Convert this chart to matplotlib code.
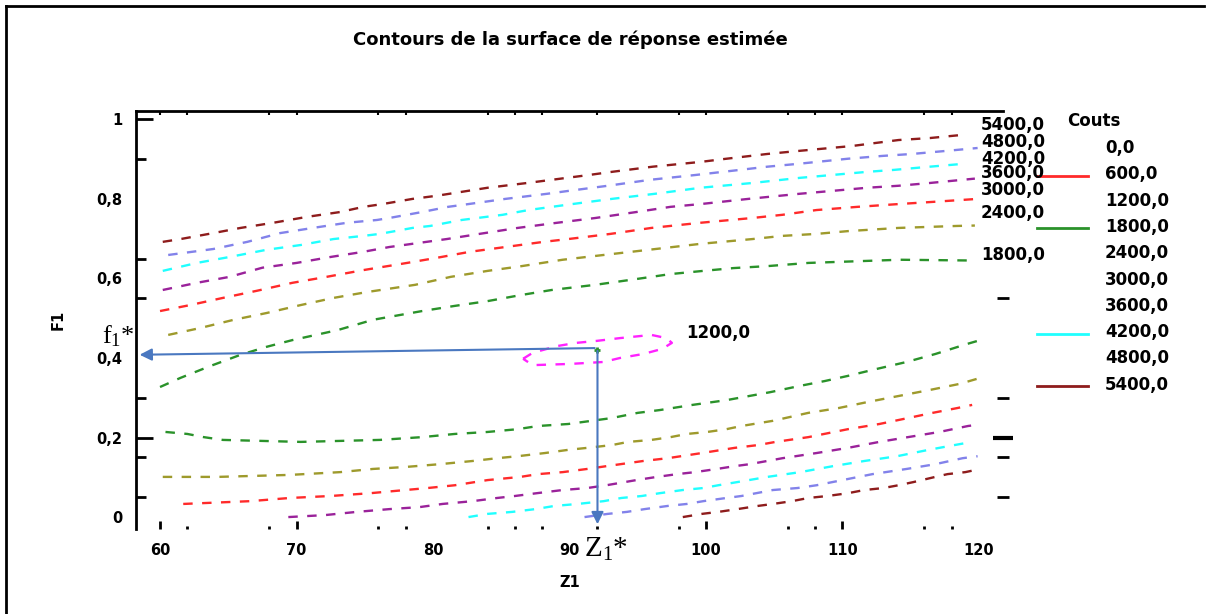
import matplotlib.pyplot as plt
import numpy as np

W, H = 1207, 614

# --- données (Z1, F1) ---
# contours du haut
up_1800_x = [60, 61.5, 63.7, 65.9, 67.8, 69.7, 73, 75.6, 79.2, 81.6, 84, 86.4, 88.7, 91.9, 95, 97.4, 99.8, 102, 104.5, 107.5, 114.2, 119.7]
up_1800_y = [0.327, 0.35, 0.38, 0.408, 0.428, 0.445, 0.47, 0.496, 0.518, 0.531, 0.543, 0.558, 0.571, 0.584, 0.599, 0.611, 0.619, 0.626, 0.631, 0.639, 0.647, 0.645]
up_2400_x = [60.6, 62.9, 65.4, 67.8, 70.3, 72.7, 75.2, 78.7, 81.3, 84, 86.5, 89.5, 92.5, 95.8, 99.6, 103.4, 105.6, 108.1, 110.4, 114.1, 118.4, 119.7]
up_2400_y = [0.458, 0.475, 0.496, 0.513, 0.533, 0.551, 0.566, 0.584, 0.604, 0.619, 0.631, 0.647, 0.659, 0.672, 0.687, 0.699, 0.707, 0.712, 0.719, 0.727, 0.732, 0.733]
up_3000_x = [60, 62.2, 64.6, 67.1, 69.7, 72.2, 74.9, 78.1, 80.3, 82.7, 85.3, 88.1, 89.9, 93, 96, 99.6, 103.4, 105.6, 108.1, 111.1, 114.1, 116.4, 119.9]
up_3000_y = [0.518, 0.533, 0.551, 0.569, 0.589, 0.604, 0.621, 0.639, 0.652, 0.667, 0.679, 0.692, 0.699, 0.712, 0.727, 0.740, 0.752, 0.760, 0.772, 0.780, 0.787, 0.792, 0.800]
up_3600_x = [60.2, 62.7, 65.1, 67.5, 70.0, 72.5, 74.9, 76.8, 81.0, 83.4, 86.2, 89.1, 91.9, 94.9, 97.4, 99.6, 103.1, 106.9, 109.2, 111.8, 114.1, 116.4, 118.8, 119.7]
up_3600_y = [0.571, 0.589, 0.604, 0.627, 0.639, 0.654, 0.667, 0.679, 0.699, 0.712, 0.727, 0.740, 0.752, 0.767, 0.780, 0.787, 0.800, 0.813, 0.820, 0.828, 0.833, 0.840, 0.848, 0.851]
up_4200_x = [60.2, 62.7, 65.1, 67.8, 70.3, 72.7, 74.9, 76.1, 78.5, 79.8, 82.1, 85.1, 87, 88.7, 90.2, 93.1, 96.3, 99.6, 103.4, 106.9, 109.2, 111.8, 113.8, 116.4, 118.8]
up_4200_y = [0.619, 0.639, 0.654, 0.672, 0.684, 0.699, 0.707, 0.712, 0.727, 0.732, 0.747, 0.760, 0.772, 0.780, 0.787, 0.800, 0.813, 0.828, 0.840, 0.853, 0.860, 0.868, 0.873, 0.881, 0.888]
up_4800_x = [60.6, 63.9, 66.4, 68.8, 71.2, 73.7, 75.9, 76.8, 79.2, 81.1, 82.6, 85.3, 88.4, 89.9, 92.8, 95.9, 99.2, 102.5, 104.5, 106.7, 110.4, 112.9, 115.1, 117.7, 119.9]
up_4800_y = [0.659, 0.674, 0.692, 0.714, 0.727, 0.740, 0.747, 0.752, 0.767, 0.780, 0.787, 0.800, 0.813, 0.820, 0.833, 0.848, 0.860, 0.873, 0.881, 0.888, 0.901, 0.908, 0.913, 0.921, 0.928]
up_5400_x = [60.2, 61.5, 63.9, 65.9, 68.3, 70.8, 73.2, 74.9, 76.3, 78.5, 80.3, 84, 86.9, 88.7, 91.4, 93.1, 96.1, 99.6, 101.5, 104.5, 106.9, 110.7, 114.1, 116.4, 118.8]
up_5400_y = [0.692, 0.699, 0.714, 0.727, 0.740, 0.755, 0.767, 0.780, 0.787, 0.800, 0.808, 0.828, 0.840, 0.848, 0.860, 0.868, 0.881, 0.893, 0.901, 0.913, 0.921, 0.933, 0.948, 0.953, 0.961]

# contours du bas
lo_1800_x = [60.4, 62, 63.2, 64.6, 70.3, 76.1, 79.2, 81.6, 84, 86.2, 87.7, 89.9, 91.4, 93.1, 95, 96.6, 99, 101.5, 104.7, 106.9, 108.7, 110.4, 112.2, 114.7, 116.8, 119.1, 119.9]
lo_1800_y = [0.214, 0.209, 0.201, 0.194, 0.189, 0.194, 0.201, 0.209, 0.214, 0.221, 0.229, 0.234, 0.241, 0.249, 0.262, 0.269, 0.282, 0.294, 0.314, 0.330, 0.342, 0.355, 0.370, 0.390, 0.410, 0.435, 0.443]
lo_2400_x = [60.2, 64.2, 69.5, 73.2, 75.6, 78, 80.5, 82.9, 84.7, 86.2, 88.2, 89.9, 91.3, 93.1, 94.3, 96, 97.4, 98.6, 100.1, 101.5, 102.6, 104.9, 107.5, 109.7, 111.8, 114.8, 116.6, 118.6, 120.1]
lo_2400_y = [0.101, 0.101, 0.106, 0.113, 0.121, 0.126, 0.133, 0.141, 0.148, 0.153, 0.161, 0.169, 0.174, 0.181, 0.189, 0.194, 0.201, 0.209, 0.214, 0.221, 0.229, 0.242, 0.262, 0.274, 0.289, 0.309, 0.321, 0.335, 0.350]
lo_3000_x = [61.7, 66.6, 69.5, 72.5, 75.4, 77, 79.6, 81.6, 84, 86.4, 87.7, 89.5, 91.3, 92.7, 95.4, 97.2, 99.7, 102.1, 103.8, 105.1, 107.5, 110.4, 112.7, 114.8, 116.6, 118.4, 119.5]
lo_3000_y = [0.033, 0.040, 0.048, 0.053, 0.060, 0.065, 0.073, 0.080, 0.093, 0.101, 0.108, 0.113, 0.121, 0.128, 0.141, 0.148, 0.161, 0.174, 0.181, 0.189, 0.201, 0.221, 0.234, 0.249, 0.262, 0.274, 0.282]
lo_3600_x = [69.4, 72.1, 74.4, 76.8, 79, 80.7, 82.9, 84.7, 86, 87.6, 89.5, 91.3, 92.7, 94.9, 96.4, 97.9, 99.2, 100.8, 102.1, 103.2, 105.6, 108.1, 110.4, 112.7, 114.8, 117.1, 119.2, 120.1]
lo_3600_y = [0, 0.005, 0.013, 0.020, 0.025, 0.033, 0.040, 0.048, 0.053, 0.060, 0.068, 0.073, 0.080, 0.093, 0.101, 0.108, 0.113, 0.121, 0.128, 0.133, 0.148, 0.161, 0.174, 0.189, 0.201, 0.214, 0.229, 0.233]
lo_4200_x = [82.6, 84, 85.8, 87.5, 88.9, 90.6, 92.5, 93.8, 95.3, 96.6, 98.3, 99.8, 100.9, 102.3, 104.5, 106.9, 109.3, 111.6, 114, 116.3, 118.2, 119.5]
lo_4200_y = [0, 0.008, 0.013, 0.020, 0.028, 0.033, 0.040, 0.048, 0.053, 0.060, 0.068, 0.073, 0.080, 0.088, 0.101, 0.113, 0.128, 0.141, 0.153, 0.169, 0.181, 0.189]
lo_4800_x = [91.1, 92.8, 94.2, 95.5, 97.2, 98.6, 99.8, 101.5, 102.6, 104.9, 106.7, 108.1, 110, 112.2, 114.7, 116.8, 118.8, 119.9]
lo_4800_y = [0, 0.008, 0.013, 0.020, 0.028, 0.033, 0.040, 0.048, 0.053, 0.068, 0.073, 0.080, 0.093, 0.108, 0.121, 0.133, 0.148, 0.153]
lo_5400_x = [98.3, 99.7, 100.9, 102.3, 103.8, 104.9, 106.3, 107.5, 108.9, 110.4, 111.6, 113, 114.1, 115.2, 116.8, 117.7, 119, 120.1]
lo_5400_y = [0, 0.008, 0.013, 0.020, 0.028, 0.033, 0.040, 0.048, 0.053, 0.060, 0.068, 0.073, 0.080, 0.088, 0.101, 0.108, 0.113, 0.121]

# contour fermé 1200
c1200_x = [86.6, 87.3, 89.1, 90.5, 92, 93.7, 96, 97.1, 97.5, 96.8, 95.4, 93.7, 92.5, 90, 87.3, 86.6]
c1200_y = [0.398, 0.413, 0.430, 0.438, 0.443, 0.450, 0.458, 0.450, 0.438, 0.423, 0.410, 0.400, 0.390, 0.385, 0.382, 0.398]

# optimum
z1_opt, f1_opt = 92.05, 0.425

# légende
legend_levels = ['0,0', '600,0', '1200,0', '1800,0', '2400,0', '3000,0', '3600,0', '4200,0', '4800,0', '5400,0']
legend_colors = [None, '#ff2a2a', None, '#2a922a', None, None, None, '#20ffff', None, '#8e1c1c']

# étiquettes des contours (à droite)
right_labels = ['5400,0', '4800,0', '4200,0', '3600,0', '3000,0', '2400,0', '1800,0']
right_label_px = [125, 142, 159, 173, 190, 213, 255]

c_green = '#2a922a'
c_olive = '#9e9a2c'
c_red = '#ff2a2a'
c_purple = '#9a229a'
c_cyan = '#20ffff'
c_mpurple = '#8282ea'
c_dred = '#8e1c1c'
c_mag = '#ff22ff'
c_arrow = '#4a78c0'

contours = [
    (up_1800_x, up_1800_y, c_green), (up_2400_x, up_2400_y, c_olive),
    (up_3000_x, up_3000_y, c_red), (up_3600_x, up_3600_y, c_purple),
    (up_4200_x, up_4200_y, c_cyan), (up_4800_x, up_4800_y, c_mpurple),
    (up_5400_x, up_5400_y, c_dred),
    (lo_1800_x, lo_1800_y, c_green), (lo_2400_x, lo_2400_y, c_olive),
    (lo_3000_x, lo_3000_y, c_red), (lo_3600_x, lo_3600_y, c_purple),
    (lo_4200_x, lo_4200_y, c_cyan), (lo_4800_x, lo_4800_y, c_mpurple),
    (lo_5400_x, lo_5400_y, c_dred),
]

plt.rcParams['font.family'] = ['DejaVu Sans']


def fx(px):
    return px / W


def fy(py):
    return 1 - py / H


fig = plt.figure(figsize=(W / 100, H / 100), dpi=100)
fig.patch.set_facecolor('white')
ax = fig.add_axes([fx(136), fy(529), (1003 - 136) / W, (529 - 111) / H])

for xs, ys, col in contours:
    ax.plot(xs, ys, color=col, lw=1.7, linestyle=(0, (4, 4)), solid_capstyle='butt')
ax.plot(c1200_x, c1200_y, color=c_mag, lw=1.7, linestyle=(0, (4, 4)))
ax.plot([z1_opt], [f1_opt - 0.006], marker='+', color=c_green, ms=5, mew=2)

ax.set_xlim(58.24, 121.76)
ax.set_ylim(-0.030, 1.021)

# spines
for s in ['right', 'bottom']:
    ax.spines[s].set_visible(False)
ax.spines['top'].set_linewidth(2)
ax.spines['left'].set_linewidth(2)

# x ticks
xmaj = [60, 70, 80, 90, 100, 110, 120]
xmin = [62, 68, 76, 78, 84, 86, 88, 92, 98, 106, 108, 116, 118]
ax.set_xticks(xmaj)
ax.set_xticklabels([str(v) for v in xmaj])
ax.set_xticks(xmin, minor=True)
ax.tick_params(axis='x', which='major', direction='in', length=6, width=2, pad=10,
               labelsize=10.5, top=False)
ax.tick_params(axis='x', which='minor', direction='in', length=2, width=2, top=False)
for t, v in zip(ax.xaxis.get_major_ticks(), xmaj):
    if v in (80, 90, 120):
        t.tick1line.set_visible(False)

# y ticks
ymaj = [0, 0.2, 0.4, 0.6, 0.8, 1.0]
ymin = [0.05, 0.15, 0.3, 0.55, 0.65, 0.9]
ax.set_yticks(ymaj)
ax.set_yticklabels(['0', '0,2', '0,4', '0,6', '0,8', '1'])
ax.set_yticks(ymin, minor=True)
ax.tick_params(axis='y', which='major', direction='in', length=12, width=2, pad=10,
               labelsize=10.5, right=False)
ax.tick_params(axis='y', which='minor', direction='in', length=7, width=2, right=False)
for t, v in zip(ax.yaxis.get_major_ticks(), ymaj):
    if v not in (0.2, 1.0):
        t.tick1line.set_visible(False)
for lab in ax.get_xticklabels() + ax.get_yticklabels():
    lab.set_fontweight('bold')

# top ticks
secx = ax.secondary_xaxis('top')
secx.set_xticks([60, 62, 68, 70, 76, 78, 84, 86, 88, 92, 98, 100, 106, 108, 110, 116, 118])
secx.tick_params(direction='in', length=3, width=1.5, labeltop=False)
for s in secx.spines.values():
    s.set_visible(False)

# right ticks
secy = ax.secondary_yaxis('right')
secy.set_yticks([0.2])
secy.set_yticks([0.05, 0.15, 0.3, 0.55], minor=True)
secy.tick_params(which='major', direction='inout', length=14, width=3, labelright=False)
secy.tick_params(which='minor', direction='inout', length=9, width=2)
for s in secy.spines.values():
    s.set_visible(False)

ax.set_xlabel('Z1', fontsize=10.5, fontweight='bold', labelpad=12)
ax.set_ylabel('F1', fontsize=10.5, fontweight='bold', labelpad=22)

fig.text(0.5 * (340 + 800) / W, fy(40), 'Contours de la surface de réponse estimée',
         ha='center', va='center', fontsize=13, fontweight='bold')

# flèches de lecture de l'optimum
ax.annotate('', xy=(58.3, 0.408), xytext=(z1_opt, f1_opt),
            arrowprops=dict(arrowstyle='-|>', color=c_arrow, lw=1.5, mutation_scale=18),
            annotation_clip=False)
ax.annotate('', xy=(z1_opt, -0.025), xytext=(z1_opt, f1_opt),
            arrowprops=dict(arrowstyle='-|>', color=c_arrow, lw=1.5, mutation_scale=18),
            annotation_clip=False)

fig.text(fx(102), fy(336), r'f$\mathregular{_1}$*', ha='left', va='center',
         fontsize=19, family='Liberation Serif')
fig.text(fx(584), fy(549), r'Z$\mathregular{_1}$*', ha='left', va='center',
         fontsize=21, family='Liberation Serif')

# étiquettes de contours
for lab, py in zip(right_labels, right_label_px):
    fig.text(fx(981), fy(py), lab, ha='left', va='center', fontsize=12, fontweight='bold')
fig.text(fx(686), fy(333), '1200,0', ha='left', va='center', fontsize=12, fontweight='bold')

# légende Couts
fig.text(fx(1094), fy(121), 'Couts', ha='center', va='center', fontsize=12, fontweight='bold')
for i, (lab, col) in enumerate(zip(legend_levels, legend_colors)):
    py = 148 + i * 26.3
    fig.text(fx(1105), fy(py), lab, ha='left', va='center', fontsize=12, fontweight='bold')
    if col is not None:
        fig.add_artist(plt.Line2D([fx(1037), fx(1088)], [fy(py + 1.5), fy(py + 1.5)],
                                  color=col, lw=2))

# cadre
fig.add_artist(plt.Line2D([fx(6), fx(6)], [fy(6), 0], color='black', lw=2))
fig.add_artist(plt.Line2D([fx(6), fx(1204)], [fy(6), fy(6)], color='black', lw=2))

fig.savefig('out.png', dpi=100)
